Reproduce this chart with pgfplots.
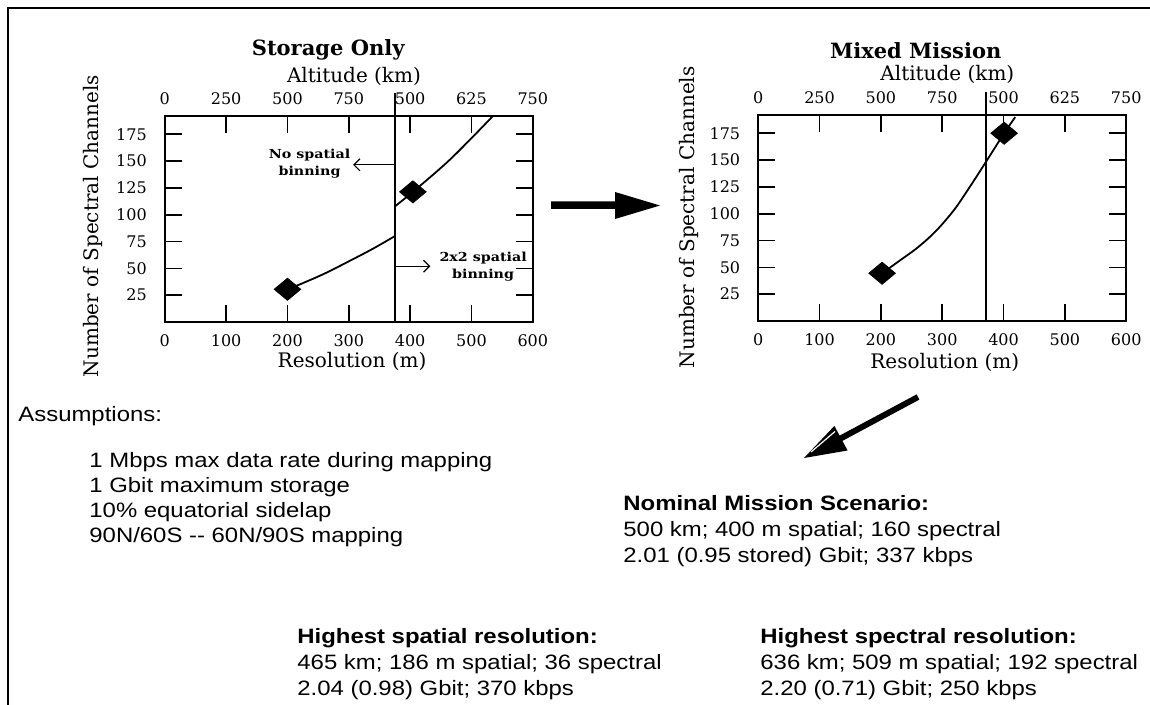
\documentclass[border=0pt]{standalone}
\usepackage{pgfplots}
\pgfplotsset{compat=1.18}
\usepackage{fontspec}
\setmainfont{DejaVu Serif}
\newfontfamily\annf[FakeStretch=1.15]{DejaVu Serif}
\newfontfamily\sansf[FakeStretch=1.15]{Liberation Sans}
\usetikzlibrary{arrows.meta}

\pgfplotsset{
  myax/.style={scale only axis, width=184pt, height=103pt,
    xmin=0, xmax=600, ymin=0, ymax=192,
    axis line style={line width=1pt, black},
    tick style={line width=0.8pt, black}, tick align=inside, major tick length=8.5pt,
    xtick={0,100,...,600}, ytick={25,50,...,175},
    tick label style={font=\fontsize{8}{9}\selectfont},
    /pgf/number format/assume math mode=true,
    xticklabel style={yshift=-3pt}, yticklabel style={xshift=-5.5pt},
    label style={font=\fontsize{8}{9}\selectfont},
    xlabel={Resolution (m)}, ylabel={Number of Spectral Channels},
    clip=false},
  topax/.style={scale only axis, width=184pt, height=103pt,
    xmin=0, xmax=600, ymin=0, ymax=192,
    axis x line*=top, axis y line=none,
    axis line style={draw=none},
    xtick={0,100,...,600}, xticklabels={0,250,500,750,500,625,750},
    xtick style={draw=none}, major tick length=0pt,
    tick label style={font=\fontsize{8}{9}\selectfont},
    xticklabel style={yshift=2pt},
    label style={font=\fontsize{8}{9}\selectfont},
    xlabel={Altitude (km)}},
  curve/.style={black, line width=0.9pt, smooth, tension=0.55},
  dia/.style={only marks, mark=square*, mark size=3.9pt, mark options={xscale=1.2, rotate=45, fill=black, draw=black}},
}
\tikzset{ann/.style={font=\annf\bfseries\fontsize{6.2}{8.5}\selectfont, align=center}}

\begin{document}
\begin{tikzpicture}
\path[use as bounding box] (0,0) rectangle (575pt,-352.5pt);

% ---------- Left plot: Storage Only ----------
\begin{axis}[topax, at={(82.4pt,-58pt)}, anchor=north west,
  every axis x label/.style={at={(axis description cs:0.514,1.19)}, anchor=center}]
\addplot[draw=none] coordinates {(0,0)};
\end{axis}
\begin{axis}[myax, at={(82.4pt,-58pt)}, anchor=north west,
  every axis x label/.style={at={(axis description cs:0.509,-0.19)}, anchor=center},
  every axis y label/.style={at={(axis description cs:-0.196,0.465)}, anchor=center, rotate=90}]
\addplot[black, line width=0.75pt] coordinates {(375,0) (375,213)};
\addplot[curve] coordinates {(200,30.5) (220,35) (260,45) (304,57.7) (340,68.5) (375,80)};
\addplot[curve] coordinates {(375.8,108) (404.5,121.3) (459,148.2) (502,172.5) (535,192)};
\addplot[dia] coordinates {(200,30.5) (404.5,121.3)};
\node[font=\bfseries\fontsize{10.5}{12}\selectfont] at (axis description cs:0.444,1.32) {Storage Only};
\node[ann] at (axis cs:236,148) {No spatial\\binning};
\draw[-{Straight Barb[length=3pt,width=6pt]}, line width=0.6pt] (axis cs:375,146.5) -- (axis cs:307,146.5);
\node[ann] at (axis cs:519,51.5) {2x2 spatial\\binning};
\draw[-{Straight Barb[length=3pt,width=6pt]}, line width=0.6pt] (axis cs:375,52) -- (axis cs:433,52);
\end{axis}

% ---------- Right plot: Mixed Mission ----------
\begin{axis}[topax, at={(379.1pt,-57.5pt)}, anchor=north west,
  every axis x label/.style={at={(axis description cs:0.514,1.196)}, anchor=center}]
\addplot[draw=none] coordinates {(0,0)};
\end{axis}
\begin{axis}[myax, at={(379.1pt,-57.5pt)}, anchor=north west,
  every axis x label/.style={at={(axis description cs:0.507,-0.2)}, anchor=center},
  every axis y label/.style={at={(axis description cs:-0.188,0.503)}, anchor=center, rotate=90}]
\addplot[black, line width=0.75pt] coordinates {(371,0) (371,213)};
\addplot[curve] coordinates {(202,44.5) (230,56) (260,68.5) (290,84) (320,104) (345,125) (371,148) (401,175) (419,190)};
\addplot[dia] coordinates {(202,44.5) (401,175)};
\node[font=\bfseries\fontsize{10.5}{12}\selectfont] at (axis description cs:0.428,1.31) {Mixed Mission};
\end{axis}

% ---------- Decorations and text (pixel coordinates) ----------
\begin{scope}[x=0.5pt, y=-0.5pt]
\draw[line width=1.3pt] (8,705) -- (8,8) -- (1150,8);
% big horizontal arrow
\fill[black] (551,201.5) -- (615,201.5) -- (615,192) -- (660,205.5) -- (615,219) -- (615,209) -- (551,209) -- cycle;
% diagonal arrow
\fill[black] (919.4,399.6) -- (842.4,440.9) -- (847.6,450.5) -- (804,458) -- (834.4,425.9) -- (839.6,435.6) -- (916.6,394.4) -- cycle;
\draw[white, line width=0.6pt] (811,452) -- (835,431.5);

\begin{scope}[every node/.style={anchor=base west, inner sep=0pt, font=\sansf\fontsize{10.4}{12}\selectfont}]
\node at (18,422) {Assumptions:};
\node at (89,467) {1 Mbps max data rate during mapping};
\node at (89,492) {1 Gbit maximum storage};
\node at (89,517) {10\% equatorial sidelap};
\node at (89,542) {90N/60S -{}- 60N/90S mapping};

\node[font=\sansf\bfseries\fontsize{10.4}{12}\selectfont] at (623,510) {Nominal Mission Scenario:};
\node at (623,536) {500 km; 400 m spatial; 160 spectral};
\node at (623,562) {2.01 (0.95 stored) Gbit; 337 kbps};

\node[font=\sansf\bfseries\fontsize{10.4}{12}\selectfont] at (297,643) {Highest spatial resolution:};
\node at (297,669) {465 km; 186 m spatial; 36 spectral};
\node at (297,695) {2.04 (0.98) Gbit; 370 kbps};

\node[font=\sansf\bfseries\fontsize{10.4}{12}\selectfont] at (760,643) {Highest spectral resolution:};
\node at (760,669) {636 km; 509 m spatial; 192 spectral};
\node at (760,695) {2.20 (0.71) Gbit; 250 kbps};
\end{scope}
\end{scope}
\end{tikzpicture}
\end{document}
